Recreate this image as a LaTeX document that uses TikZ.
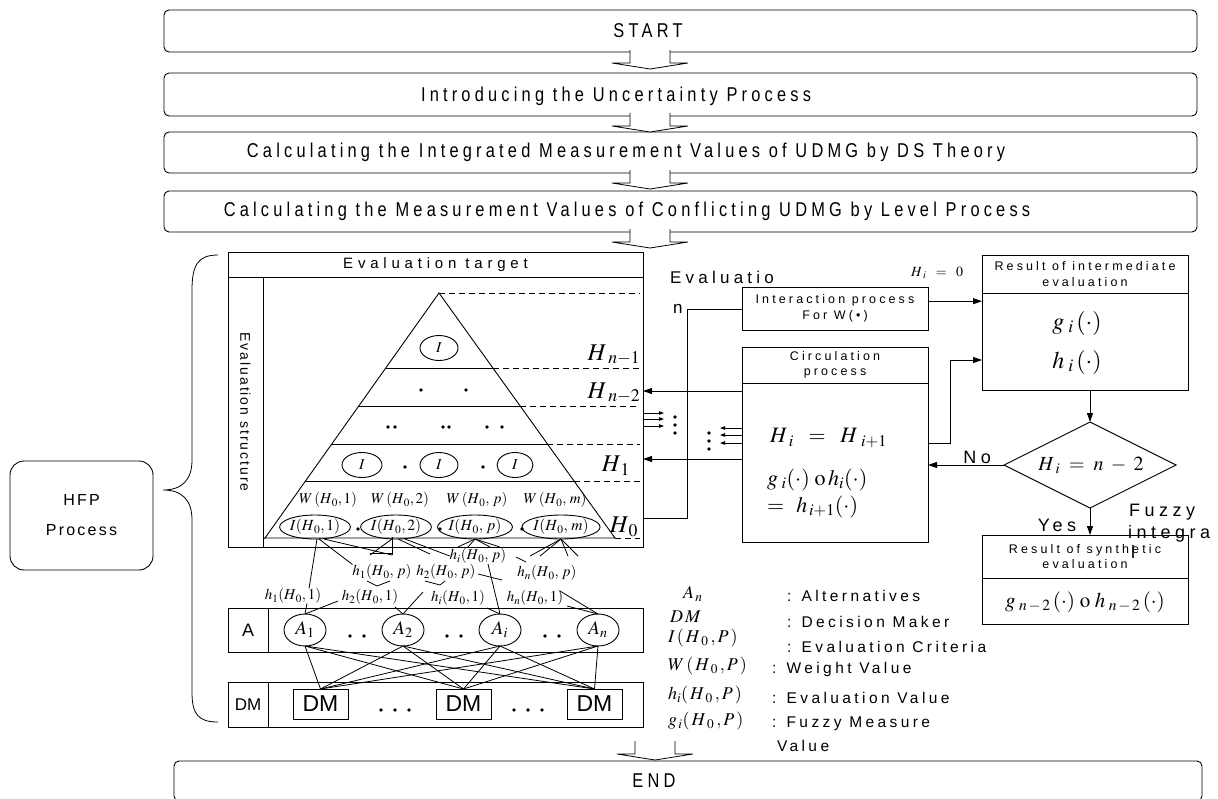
\documentclass[tikz,border=0pt]{standalone}
\usepackage{mathptmx}
\usepackage[no-math]{fontspec}
\setmainfont{Liberation Sans}
\newfontfamily\ftop[LetterSpace=21,FakeStretch=0.82]{Liberation Sans}
\newfontfamily\fwide[LetterSpace=25]{Liberation Sans}
\newfontfamily\fevt[LetterSpace=32]{Liberation Sans}
\newfontfamily\fmidd[LetterSpace=14]{Liberation Sans}
\newfontfamily\flg[LetterSpace=22]{Liberation Sans}
\newcommand{\fsz}[2]{\fontsize{#1}{#2}\selectfont}
\usetikzlibrary{arrows.meta,shapes.geometric,calc}
\tikzset{
  blkarr/.pic={\draw[fill=white,line width=0.8pt] (-20,-1) -- (-20,12) -- (-38,12) -- (0,18) -- (38,12) -- (20,12) -- (20,-1);}
}
\begin{document}
\begin{tikzpicture}[x=1pt,y=-1pt,line width=0.9pt,
  every node/.style={inner sep=0pt,outer sep=0pt},
  rbox/.style={draw,rounded corners=5pt},
  sbox/.style={draw,rectangle},
  ell/.style={draw,ellipse},
  dsh/.style={dash pattern=on 6pt off 4pt},
  arr/.style={-{Triangle[length=9pt,width=6pt]}},
  sarr/.style={-{Triangle[length=5pt,width=3.5pt]}},
  ttop/.style={font=\ftop\fsz{20}{24}},
  twide/.style={font=\fwide\fsz{#1}{#1}, align=center},
  tmid/.style={font=\fmidd\fsz{#1}{#1}},
  tlg/.style={font=\flg\fsz{15.5}{15.5}},
  mth/.style={font=\fsz{#1}{#1}},
  dot/.style={circle,fill,minimum size=3.6pt}
]
\useasboundingbox (0,0) rectangle (1218,798);

% ---------------- top flow ----------------
\node[rbox,minimum width=1033pt,minimum height=42pt] (start) at (680.5,31) {};
\node[ttop] (startt) at (648,31) {START};
\node[rbox,minimum width=1033pt,minimum height=43pt] (intro) at (680.5,94.5) {};
\node[ttop] (introt) at (616,96) {Introducing the Uncertainty Process};
\node[rbox,minimum width=1033pt,minimum height=41pt] (ds) at (680.5,152.5) {};
\node[ttop] (dst) at (626,152) {Calculating the Integrated Measurement Values of UDMG by DS Theory};
\node[rbox,minimum width=1033pt,minimum height=41pt] (lvl) at (680.5,211.5) {};
\node[ttop] (lvlt) at (627,211) {Calculating the Measurement Values of Conflicting UDMG by Level Process};
\node[rbox,minimum width=1028pt,minimum height=40pt] (endb) at (688,781) {};
\node[ttop] (endt) at (654,781) {END};
\pic at (650,51) {blkarr};
\pic at (650,114) {blkarr};
\pic at (650,171) {blkarr};
\pic at (650,230) {blkarr};
\pic at (655,742) {blkarr};

% ---------------- HFP + brace ----------------
\node[draw,rounded corners=14pt,minimum width=143pt,minimum height=109pt,align=center,
      font=\fmidd\fsz{16}{30}] (hfp) at (81.5,515.5) {HFP\\Process};
\draw[line width=0.8pt] (218,255) .. controls (198,255) and (192,265) .. (192,290) -- (192,460)
  .. controls (192,480) and (182,490) .. (163,490)
  .. controls (182,490) and (192,500) .. (192,520) -- (192,692)
  .. controls (192,714) and (198,722) .. (218,722);

% ---------------- evaluation structure frame ----------------
\node[sbox,minimum width=415pt,minimum height=295pt] (frame) at (435.5,399.5) {};
\node[sbox,anchor=north,minimum width=415pt,minimum height=25pt,font=\fevt\fsz{15}{15}] (evt) at (frame.north) {Evaluation target};
\node[sbox,anchor=north west,minimum width=35pt,minimum height=270pt] (col) at (evt.south west) {};
\node[rotate=-90,tmid=14] (colt) at (col) {Evaluation structure};

% pyramid
\coordinate (apex) at (439,293);
\coordinate (bl) at (265,538);
\coordinate (br) at (615,538);
\draw (apex) -- (bl) -- (br) -- cycle;
\draw (col.south east |- bl) -- (bl);
\foreach \t in {0.3061,0.4612,0.6163,0.7673}{
  \draw ($(apex)!\t!(bl)$) -- ($(apex)!\t!(br)$) coordinate (rr);
  \draw[dsh] (rr) -- ([xshift=-3pt]rr -| frame.east);
}
\draw[dsh] (apex) -- ([xshift=-3pt]apex -| frame.east);
\draw[dsh] (br) -- ([xshift=-3pt]br -| frame.east);

% level contents
\node[ell,minimum width=38pt,minimum height=25pt,mth=15] (Itop) at (439,348) {$I$};
\node[dot] (d1) at (421,390) {};
\node[dot] (d2) at (466,390) {};
\node[dot] (d3) at (388,427) {};
\node[dot] (d4) at (395,427) {};
\node[dot] (d5) at (443,427) {};
\node[dot] (d6) at (449,427) {};
\node[dot] (d7) at (487,427) {};
\node[dot] (d8) at (502,427) {};
\node[ell,minimum width=40pt,minimum height=25pt,mth=15] (Ia) at (362,465) {$I$};
\node[ell,minimum width=38pt,minimum height=25pt,mth=15] (Ib) at (439,465) {$I$};
\node[ell,minimum width=36pt,minimum height=25pt,mth=15] (Ic) at (515,465) {$I$};
\node[dot] (d9) at (405,467) {};
\node[dot] (d10) at (483,467) {};

\node[mth=15] (W1) at (328,500) {$W\,(H_{\,0},1)$};
\node[mth=15] (W2) at (400,500) {$W\,(H_{\,0},2)$};
\node[mth=15] (Wp) at (477,500) {$W\,(H_{\,0},\,p)$};
\node[mth=15] (Wm) at (555,500) {$W\,(H_{\,0},\,m)$};
\node[ell,minimum width=65pt,minimum height=24pt,mth=15.5] (I1) at (315,527) {$I(H_{\,0},1)$};
\node[ell,minimum width=65pt,minimum height=24pt,mth=15.5] (I2) at (396,527) {$I(H_{\,0},2)$};
\node[ell,minimum width=65pt,minimum height=24pt,mth=15.5] (Ip) at (475,527) {$I(H_{\,0},\,p)$};
\node[ell,minimum width=72pt,minimum height=24pt,mth=15.5] (Im) at (561,527) {$I(H_{\,0},\,m)$};
\node[dot] (d11) at (358,529) {};
\node[dot] (d12) at (440,529) {};
\node[dot] (d13) at (522,529) {};

\node[mth=24] (Hn1) at (614,355) {$H_{\;n-1}$};
\node[mth=24] (Hn2) at (614,393) {$H_{\;n-2}$};
\node[mth=24] (H1) at (616,466) {$H_{\,1}$};
\node[mth=24] (H0) at (624,527) {$H_{\,0}$};

% ---------------- A and DM rows ----------------
\node[sbox,minimum width=415pt,minimum height=44pt] (arow) at (435.5,630) {};
\node[sbox,anchor=west,minimum width=40pt,minimum height=44pt,font=\fsz{18}{18}] (acell) at (arow.west) {A};
\node[sbox,minimum width=415pt,minimum height=45pt] (drow) at (435.5,704.5) {};
\node[sbox,anchor=west,minimum width=40pt,minimum height=45pt,font=\fsz{17}{17}] (dcell) at (drow.west) {DM};
\node[ell,minimum width=42pt,minimum height=32pt,mth=19] (A1) at (305,630) {$A_1$};
\node[ell,minimum width=42pt,minimum height=32pt,mth=19] (A2) at (403,630) {$A_2$};
\node[ell,minimum width=42pt,minimum height=32pt,mth=19] (Ai) at (500,630) {$A_i$};
\node[ell,minimum width=42pt,minimum height=32pt,mth=19] (An) at (598,630) {$A_n$};
\foreach \x in {350,364,447,461,545,559}{\fill (\x,636) circle (1.8);}
\node[sbox,minimum width=55pt,minimum height=30pt,font=\fsz{23}{23}] (D1) at (320.5,704) {DM};
\node[sbox,minimum width=55pt,minimum height=30pt,font=\fsz{23}{23}] (D2) at (463.5,704) {DM};
\node[sbox,minimum width=55pt,minimum height=30pt,font=\fsz{23}{23}] (D3) at (594.5,704) {DM};
\foreach \x in {381,395,409,514,528,542}{\fill (\x,710) circle (1.8);}
\foreach \a in {A1,A2,Ai,An}{\foreach \d in {D1,D2,D3}{\draw[line width=0.8pt] (\a.south) -- (\d.north);}}

% ---------------- h labels and wiring ----------------
\node[mth=15] (hip) at (478,556) {$h_i(H_{\,0},\,p)$};
\node[mth=15] (h1p) at (382,572) {$h_1(H_{\,0},\,p)$};
\node[mth=15] (h2p) at (446,572) {$h_2(H_{\,0},\,p)$};
\node[mth=15] (hnp) at (547,573) {$h_n(H_{\,0},\,p)$};
\node[mth=15] (h11) at (293,596) {$h_1(H_{\,0},1)$};
\node[mth=15] (h21) at (370,597) {$h_2(H_{\,0},1)$};
\node[mth=15] (hi1) at (458,598) {$h_i(H_{\,0},1)$};
\node[mth=15] (hn1) at (535,598) {$h_n(H_{\,0},1)$};
\begin{scope}[line width=0.8pt]
\draw ([xshift=2pt]I1.south) -- (h11.north -| 309,0);
\draw (h11.south -| 307,0) -- (A1.north);
\draw ([xshift=4pt]I1.south) -- (h1p.north west);
\draw ([xshift=9pt]I1.south) -- (392,555);
\draw (370,553) -- (392,553);
\draw ([xshift=-4pt]I2.south) -- (370,555);
\draw (392,537) -- (392,555);
\draw ([xshift=2pt]I2.south) -- (430,554);
\draw ([xshift=9pt]I2.south) -- (hip.west);
\foreach \x in {458,468,490,500}{\draw (Ip.south) -- (\x,547);}
\foreach \x in {530,540,568,578}{\draw (Im.south) -- (\x,556);}
\draw (516,557) -- (526,562);
\draw (367,581) -- (377,586) -- (390,581);
\draw (425,581) -- (440,585) -- (445,581);
\draw (338,601) -- (A1.north);
\draw (395,607) -- (A2.north);
\draw (423,592) -- (A2.north);
\draw (487,608) -- (Ai.north);
\draw (488,564) -- (Ai.north);
\draw (478,574) -- (502,580);
\draw (567,606) -- (An.north);
\draw (560,591) -- (An.north);
\end{scope}

% ---------------- legend ----------------
\node[mth=18,anchor=west] (lA) at (683,594) {$A_{\,n}$};
\node[mth=18,anchor=west] (lD) at (670,617) {$D\,M$};
\node[mth=18,anchor=west] (lI) at (668,638) {$I\,(\,H_{\;0}\,,P\,)$};
\node[mth=18,anchor=west] (lW) at (668,666) {$W\,(\,H_{\;0}\,,P\,)$};
\node[mth=18,anchor=west] (lh) at (668,695) {$h_i(\,H_{\;0}\,,P\,)$};
\node[mth=18,anchor=west] (lg) at (668,721) {$g_{\,i}(\,H_{\;0}\,,P\,)$};
\node[tlg,anchor=west] (tA) at (787,596) {: Alternatives};
\node[tlg,anchor=west] (tD) at (787,622) {: Decision Maker};
\node[tlg,anchor=west] (tI) at (787,647) {: Evaluation Criteria};
\node[tlg,anchor=west] (tW) at (772,669) {: Weight Value};
\node[tlg,anchor=west] (th) at (772,698) {: Evaluation Value};
\node[tlg,anchor=west] (tg) at (772,724) {: Fuzzy Measure};
\node[tlg,anchor=west] (tv) at (777,746) {Value};

% ---------------- right flow ----------------
\node[sbox,minimum width=186pt,minimum height=43pt,twide=12.5] (inter) at (835,308.5) {Interaction process\\[4pt]For W(•)};
\node[sbox,minimum width=186pt,minimum height=195pt] (circ) at (835,444.5) {};
\node[sbox,anchor=north,minimum width=186pt,minimum height=36pt,twide=12.5] (circh) at (circ.north) {Circulation\\[3pt]process};
\node[mth=22,anchor=west] (c1) at (770,438) {$H_{\;i}\;\;=\;\;H_{\;\,i+1}$};
\node[mth=22,anchor=west] (c2) at (767,480) {$g_{\;i}(\cdot)\;\mathrm{o}\,h_i(\cdot)$};
\node[mth=22,anchor=west] (c3) at (767,507) {$=\;\,h_{\,i+1}(\cdot)$};

\node[sbox,minimum width=206pt,minimum height=135pt] (resi) at (1085,322.5) {};
\node[sbox,anchor=north,minimum width=206pt,minimum height=38pt,twide=12.5] (resih) at (resi.north) {Result of intermediate\\[3pt]evaluation};
\node[mth=24] (rg) at (1077,323) {$g_{\;i}\,(\cdot)$};
\node[mth=24] (rh) at (1077,362) {$h_{\;i}\,(\cdot)$};

\node[draw,diamond,minimum width=172pt,minimum height=86pt] (dia) at (1090,465) {};
\node[mth=20] (diat) at (1091,465) {$H_{\;i}\;=\;n\;-\;2$};

\node[sbox,minimum width=206pt,minimum height=89pt] (syn) at (1085,579.5) {};
\node[sbox,anchor=north,minimum width=206pt,minimum height=43pt,twide=12.5] (synh) at (syn.north) {Result of synthetic\\[3pt]evaluation};
\node[mth=21] (synt) at (1085,602) {$g_{\;n\,-\,2}\,(\cdot)\;\mathrm{o}\;h_{\;n\,-\,2}\,(\cdot)$};

% labels
\node[twide=17,anchor=west] (ev1) at (670,277) {Evaluatio};
\node[twide=17,anchor=west] (ev2) at (673,309) {n};
\node[mth=14] (hi0) at (937,273) {$H_{\;i}\;\;=\;\;0$};
\node[twide=18] (no) at (977,457) {No};
\node[twide=18] (yes) at (1057,525) {Yes};
\node[twide=18,anchor=west] (fz1) at (1129,512) {Fuzzy};
\node[twide=18,anchor=west] (fz2) at (1128,534) {integra};
\node[twide=18,anchor=west] (fz3) at (1131,552) {l};

% connectors
\coordinate (ia) at ($(inter.north east)!0.33!(inter.south east)$);
\draw[arr] (ia) -- (ia -| resi.west);
\coordinate (ca) at (circ.east |- 0,443);
\coordinate (cb) at (950,443);
\coordinate (cc) at (950,360);
\draw[arr] (ca) -- (cb) -- (cc) -- (cc -| resi.west);
\draw[arr] (dia.north |- resi.south) -- (dia.north);
\draw[arr] (dia.west) -- (dia.west -| circ.east);
\draw[arr] (dia.south) -- (dia.south |- syn.north);
\coordinate (h0a) at (frame.east |- 0,518);
\coordinate (h0b) at (687,518);
\coordinate (h0c) at (687,309);
\draw (h0a) -- (h0b) -- (h0c) -- (h0c -| inter.west);
\coordinate (ln2) at (circ.west |- 0,391);
\draw[arr] (ln2) -- (ln2 -| frame.east);
\coordinate (ln1) at (circ.west |- 0,459);
\draw[arr] (ln1) -- (ln1 -| frame.east);
\foreach \y in {413,419,426}{\draw[sarr,line width=0.8pt] (frame.east |- 0,\y) -- (664,\y);}
\foreach \y in {417,425,433}{\fill (675,\y) circle (1.8);}
\foreach \y in {428,435,443}{\draw[sarr,line width=0.8pt] (circ.west |- 0,\y) -- (720,\y);}
\foreach \y in {433,441,449}{\fill (709,\y) circle (1.8);}
\end{tikzpicture}
\end{document}
